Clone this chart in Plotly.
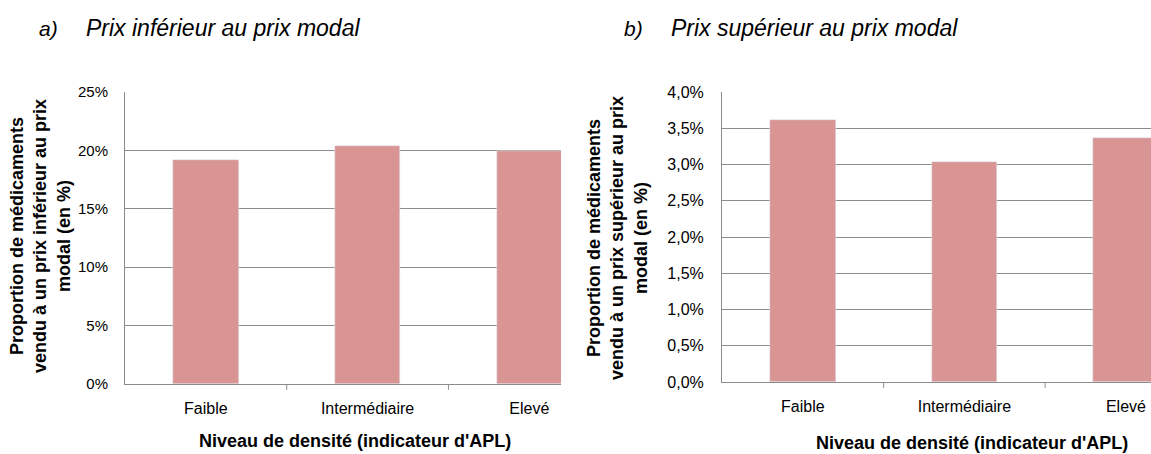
import plotly.graph_objects as go

# ----------------------- data ------------------
categories = ["Faible", "Intermédiaire", "Elevé"]
prix_inferieur = [19.15, 20.4, 19.95]      # % vendu a un prix inferieur au prix modal
prix_superieur = [3.61, 3.03, 3.37]        # % vendu a un prix superieur au prix modal

ticks_a = [0, 5, 10, 15, 20, 25]
ticks_a_txt = ["0%", "5%", "10%", "15%", "20%", "25%"]
ticks_b = [0, 0.5, 1.0, 1.5, 2.0, 2.5, 3.0, 3.5, 4.0]
ticks_b_txt = ["0,0%", "0,5%", "1,0%", "1,5%", "2,0%", "2,5%", "3,0%", "3,5%", "4,0%"]

W, H = 1151, 454
BAR = "#D99594"
GRID = "#8c8c8c"
FONT = "Liberation Sans, Arial, sans-serif"


def px(x):
    return x / W


def py(y):
    return 1 - y / H


fig = go.Figure()
fig.add_trace(go.Bar(x=[0, 1, 2], y=prix_inferieur, marker_color=BAR, width=0.405,
                     xaxis="x", yaxis="y", showlegend=False))
fig.add_trace(go.Bar(x=[0, 1, 2], y=prix_superieur, marker_color=BAR, width=0.405,
                     xaxis="x2", yaxis="y2", showlegend=False))

axis_common = dict(showline=True, linecolor=GRID, linewidth=1, mirror=False, zeroline=False,
                   ticks="", automargin=False)

fig.update_layout(
    width=W, height=H, margin=dict(l=0, r=0, t=0, b=0, autoexpand=False),
    paper_bgcolor="white", plot_bgcolor="white",
    font=dict(family=FONT, color="#000"),
    xaxis=dict(axis_common, domain=[px(125), px(561)], range=[-0.5, 2.196],
               tickvals=[0, 1, 2], ticktext=categories, showgrid=False, anchor="y",
               ticklabelstandoff=10, tickfont=dict(family=FONT, size=16, color="#000")),
    yaxis=dict(axis_common, domain=[py(384), py(92)], range=[0, 25],
               tickvals=ticks_a, ticktext=ticks_a_txt, showgrid=True,
               gridcolor=GRID, gridwidth=1, anchor="x", ticklabelstandoff=13,
               tickfont=dict(family=FONT, size=15, color="#000")),
    xaxis2=dict(axis_common, domain=[px(722), 1.0], range=[-0.5, 2.155],
                tickvals=[0, 1, 2], ticktext=categories, showgrid=False, anchor="y2",
                ticklabelstandoff=10, tickfont=dict(family=FONT, size=16, color="#000")),
    yaxis2=dict(axis_common, domain=[py(382), py(92)], range=[0, 4],
                tickvals=ticks_b, ticktext=ticks_b_txt, showgrid=True,
                gridcolor=GRID, gridwidth=1, anchor="x2", ticklabelstandoff=14,
                tickfont=dict(family=FONT, size=16, color="#000")),
    bargap=0,
)

# small tick marks between categories
for xa, ya in (("x", "y"), ("x2", "y2")):
    for xv in (0.5, 1.5):
        fig.add_shape(type="line", xref=xa, yref=ya + " domain", x0=xv, x1=xv, y0=0, y1=-0.02,
                      line=dict(color=GRID, width=1))

ann = []
# panel titles
ann.append(dict(text="<i>a)</i>", x=px(37), y=py(28), xanchor="left", yanchor="middle", font=dict(size=21)))
ann.append(dict(text="<i>Prix inférieur au prix modal</i>", x=px(84), y=py(28), xanchor="left",
                yanchor="middle", font=dict(size=23)))
ann.append(dict(text="<i>b)</i>", x=px(622), y=py(28), xanchor="left", yanchor="middle", font=dict(size=21)))
ann.append(dict(text="<i>Prix supérieur au prix modal</i>", x=px(669), y=py(28), xanchor="left",
                yanchor="middle", font=dict(size=23)))
# y titles
ann.append(dict(text="<b>Proportion de médicaments<br>vendu à un prix inférieur au prix<br>modal (en %)</b>",
                x=px(40), y=py(236), textangle=-90, xanchor="center", yanchor="middle",
                font=dict(size=18)))
ann.append(dict(text="<b>Proportion de médicaments<br>vendu à un prix supérieur au prix<br>modal (en %)</b>",
                x=px(618), y=py(238), textangle=-90, xanchor="center", yanchor="middle",
                font=dict(size=18)))
# x titles
ann.append(dict(text="<b>Niveau de densité (indicateur d'APL)</b>", x=px(355), y=py(441),
                xanchor="center", yanchor="middle", font=dict(size=18)))
ann.append(dict(text="<b>Niveau de densité (indicateur d'APL)</b>", x=px(972), y=py(443),
                xanchor="center", yanchor="middle", font=dict(size=18)))

for a in ann:
    a.update(xref="paper", yref="paper", showarrow=False)
    a["font"].update(family=FONT, color="#000")
fig.update_layout(annotations=ann)

# pin the graph to the top left corner of the page
pin = ("document.body.style.margin='0';"
       "document.documentElement.style.overflow='hidden';"
       "var d=document.getElementById('{plot_id}');"
       "d.style.position='fixed';d.style.top='0px';d.style.left='0px';")
fig.write_html("out.html", config={"displayModeBar": False}, post_script=pin)
